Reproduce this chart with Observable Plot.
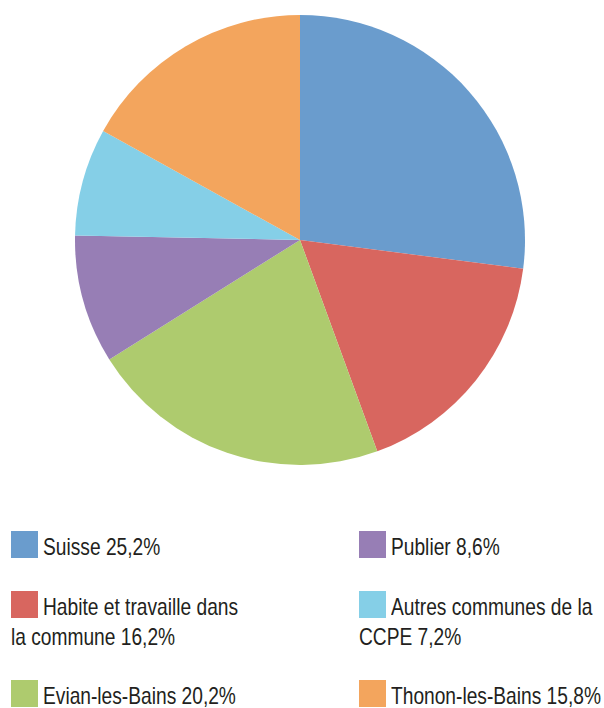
<!DOCTYPE html>
<html>
<head>
<meta charset="utf-8">
<script src="https://cdn.jsdelivr.net/npm/d3@7"></script>
<script src="https://cdn.jsdelivr.net/npm/@observablehq/plot@0.6"></script>
<style>
  html, body { margin: 0; padding: 0; background: #fff; }
  #wrap { position: relative; width: 604px; height: 708px; overflow: hidden; }
  #chart { position: absolute; left: 0; top: 0; }
  .sw { position: absolute; width: 27px; height: 27px; }
  .txt { position: absolute; white-space: nowrap; font-family: "Liberation Sans", Arial, sans-serif; font-size: 24px; line-height: 30px; color: #231f20; transform-origin: 0 0; }
</style>
</head>
<body>
<div id="wrap"><div id="chart"></div></div>
<script>
const names = ["Suisse", "Habite et travaille dans la commune", "Evian-les-Bains", "Publier", "Autres communes de la CCPE", "Thonon-les-Bains"];
const values = [25.2, 16.2, 20.2, 8.6, 7.2, 15.8];
const labels = [["Suisse 25,2%"], ["Habite et travaille dans", "la commune 16,2%"], ["Evian-les-Bains 20,2%"], ["Publier 8,6%"], ["Autres communes de la", "CCPE 7,2%"], ["Thonon-les-Bains 15,8%"]];
const colors = ["#6a9ccd", "#d8665f", "#aecb6e", "#977eb5", "#85cfe7", "#f3a55d"];

const data = names.map((name, i) => ({name, value: values[i]}));
const arcs = d3.pie().sort(null).value(d => d.value)(data);
const fallbackColor = d3.scaleOrdinal(names, colors);

const pieMark = (index, scales) => {
  const x = scales.x, y = scales.y;
  const cx = x(0), cy = y(0);
  const r = Math.abs(x(1) - x(0));
  const color = scales.color || fallbackColor;
  const arc = d3.arc().innerRadius(0).outerRadius(r);
  const g = d3.create("svg:g").attr("transform", `translate(${cx},${cy})`);
  g.selectAll("path").data(arcs).join("path")
    .attr("d", arc)
    .attr("fill", d => color(d.data.name));
  return g.node();
};

const plot = Plot.plot({
  width: 604,
  height: 480,
  margin: 0,
  x: {domain: [-1, 1], range: [75, 525], axis: null},
  y: {domain: [-1, 1], range: [465, 15], axis: null},
  color: {domain: names, range: colors},
  marks: [
    Plot.dot(data, {x: () => 0, y: () => 0, r: 0, fill: "name"}),
    pieMark
  ]
});
document.getElementById("chart").appendChild(plot);

// legend
const wrap = document.getElementById("wrap");
const cols = [[11, 43], [11, 43], [11, 43], [359, 391], [359, 391], [359, 391]];
const tops = [531, 591, 680, 531, 591, 680];
const spans = [];
labels.forEach((lines, i) => {
  const sw = document.createElement("div");
  sw.className = "sw";
  sw.style.background = colors[i];
  sw.style.left = cols[i][0] + "px";
  sw.style.top = tops[i] + "px";
  wrap.appendChild(sw);
  lines.forEach((ln, j) => {
    const t = document.createElement("div");
    t.className = "txt";
    t.textContent = ln;
    t.style.left = (j === 0 ? cols[i][1] : cols[i][0]) + "px";
    t.style.top = (tops[i] + 1 + 30 * j) + "px";
    wrap.appendChild(t);
    spans.push(t);
  });
});
// condense text to match the narrow typeface of the reference
const ref = spans[spans.length - 1];
const s = Math.min(1, 210 / ref.getBoundingClientRect().width);
spans.forEach(t => t.style.transform = `scaleX(${s})`);
</script>
</body>
</html>
